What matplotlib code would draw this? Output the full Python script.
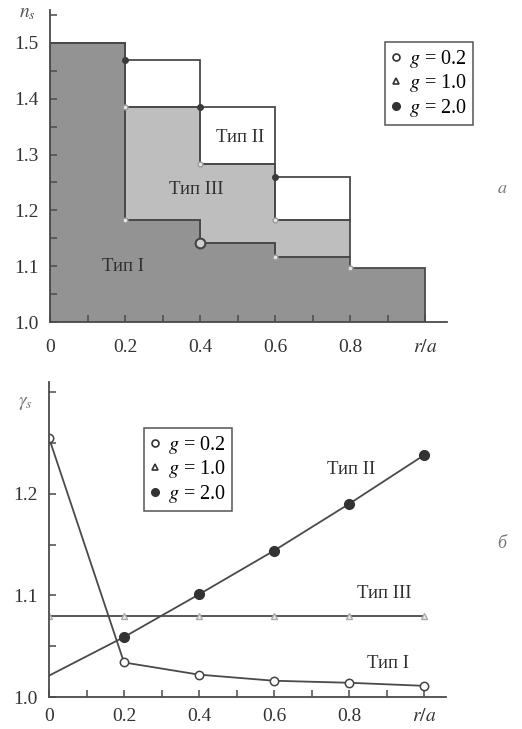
import numpy as np
import matplotlib.pyplot as plt
from matplotlib.lines import Line2D

plt.rcParams['font.family'] = ['Liberation Serif', 'DejaVu Serif']
plt.rcParams['mathtext.fontset'] = 'stix'

# upper panel (a): step profiles n_s over r/a
edges = [0.0, 0.2, 0.4, 0.6, 0.8, 1.0]
ns_type1 = [1.50, 1.183, 1.142, 1.116, 1.097]   # g = 0.2
ns_type3 = [1.50, 1.386, 1.283, 1.183]          # g = 1.0
ns_type2 = [1.50, 1.470, 1.386, 1.260]          # g = 2.0

# lower panel (b): gamma_s over r/a
r = [0.0, 0.2, 0.4, 0.6, 0.8, 1.0]
gam_type1 = [1.255, 1.034, 1.022, 1.016, 1.014, 1.011]
gam_type3 = [1.080, 1.080, 1.080, 1.080, 1.080, 1.080]
gam_type2 = [1.021, 1.059, 1.101, 1.144, 1.190, 1.238]

xtick_pos = [0, 0.2, 0.4, 0.6, 0.8, 1.0]
xtick_lab = ['0', '0.2', '0.4', '0.6', '0.8', '$r/a$']
g_labels = ['$g$ = 0.2', '$g$ = 1.0', '$g$ = 2.0']

line_c = '#4a4a4a'
dark_fill = '#939393'
light_fill = '#bebebe'
text_c = '#303030'

fig = plt.figure(figsize=(5.22, 7.29), dpi=100)
ax1 = fig.add_axes([50/522, 1 - 322/729, 397.5/522, 312.5/729])
ax2 = fig.add_axes([49/522, 1 - 697/729, 397.5/522, 315/729])


def style_axes(ax, ymin, ymax, yticks, ylabels, yminor, xpad):
    ax.set_xlim(0, 1.06)
    ax.set_ylim(ymin, ymax)
    for s in ['top', 'right']:
        ax.spines[s].set_visible(False)
    for s in ['left', 'bottom']:
        ax.spines[s].set_color(line_c)
        ax.spines[s].set_linewidth(1.3)
    ax.set_xticks(xtick_pos)
    ax.set_xticklabels(xtick_lab)
    ax.set_xticks(np.arange(0.1, 1.0, 0.2), minor=True)
    ax.set_yticks(yticks)
    ax.set_yticklabels(ylabels)
    ax.set_yticks(yminor, minor=True)
    ax.tick_params(which='both', direction='in', length=5, width=1.1,
                   color=line_c, labelsize=14, labelcolor='#333333')
    ax.tick_params(axis='x', pad=xpad)
    ax.tick_params(axis='y', pad=8)


legend_handles = [
    Line2D([], [], ls='none', marker='o', ms=5, mfc='white', mec='#333333', mew=1.2),
    Line2D([], [], ls='none', marker='^', ms=5, mfc='white', mec='#333333', mew=1.2),
    Line2D([], [], ls='none', marker='o', ms=5.5, mfc='#333333', mec='#333333'),
]

# ---- panel a ----
ax1.stairs(ns_type1, edges, baseline=1.0, fill=True, color=dark_fill, zorder=1)
ax1.stairs(ns_type3, edges[:5], baseline=ns_type1[:4], fill=True, color=light_fill, zorder=1)
ax1.stairs(ns_type1, edges, baseline=1.0, fill=False, color=line_c, lw=1.3, zorder=2)
ax1.stairs(ns_type3, edges[:5], baseline=ns_type1[:4], fill=False, color=line_c, lw=1.3, zorder=2)
ax1.stairs(ns_type2, edges[:5], baseline=ns_type3, fill=False, color=line_c, lw=1.3, zorder=2)

ax1.plot(edges[1:4], ns_type2[1:], ls='none', marker='o', ms=4, color='#3a3a3a', zorder=3)
ax1.plot(edges[1:4], ns_type3[1:], ls='none', marker='o', ms=3.5, mfc='#e6e6e6', mec='#9a9a9a', zorder=3)
ax1.plot(edges[1:5], ns_type1[1:], ls='none', marker='o', ms=3.5, mfc='#e6e6e6', mec='#9a9a9a', zorder=3)
ax1.plot(edges[2], ns_type1[2], ls='none', marker='o', ms=7, mfc='#d0d0d0', mec='#444444', mew=1.5, zorder=3)

style_axes(ax1, 1.0, 1.56, [1.0, 1.1, 1.2, 1.3, 1.4, 1.5],
           ['1.0', '1.1', '1.2', '1.3', '1.4', '1.5'],
           [1.05, 1.15, 1.25, 1.35, 1.45, 1.55], xpad=12)

ax1.text(0.507, 1.33, 'Тип II', ha='center', va='center', fontsize=13.5, color=text_c)
ax1.text(0.389, 1.237, 'Тип III', ha='center', va='center', fontsize=13.5, color=text_c)
ax1.text(0.195, 1.10, 'Тип I', ha='center', va='center', fontsize=13.5, color=text_c)

leg1 = ax1.legend(legend_handles, g_labels, loc='upper left', bbox_to_anchor=(0.843, 0.896),
                  borderaxespad=0, fontsize=14.5, handlelength=0.5, handletextpad=0.4,
                  labelspacing=0.12, borderpad=0.3, fancybox=False, framealpha=1)
leg1.get_frame().set_edgecolor('#555555')
leg1.get_frame().set_linewidth(1.1)

# ---- panel b ----
ax2.plot(r, gam_type1, color=line_c, lw=1.3, marker='o', ms=6, mfc='white', mec='#444444', mew=1.1)
ax2.plot(r, gam_type3, color=line_c, lw=1.3, marker='^', ms=5, mfc='#eeeeee', mec='#aaaaaa', mew=1.0)
ax2.plot(r, gam_type2, color=line_c, lw=1.3, marker='o', ms=7, mfc='#333333', mec='#333333',
         markevery=slice(1, None))

style_axes(ax2, 1.0, 1.31, [1.0, 1.1, 1.2, 1.3], ['1.0', '1.1', '1.2', ''],
           [1.05, 1.15, 1.25], xpad=8)

ax2.text(0.805, 1.224, 'Тип II', ha='center', va='center', fontsize=13.5, color=text_c)
ax2.text(0.893, 1.102, 'Тип III', ha='center', va='center', fontsize=13.5, color=text_c)
ax2.text(0.904, 1.033, 'Тип I', ha='center', va='center', fontsize=13.5, color=text_c)

leg2 = ax2.legend(legend_handles, g_labels, loc='upper left', bbox_to_anchor=(0.239, 0.854),
                  borderaxespad=0, fontsize=14.5, handlelength=0.5, handletextpad=0.4,
                  labelspacing=0.12, borderpad=0.3, fancybox=False, framealpha=1)
leg2.get_frame().set_edgecolor('#555555')
leg2.get_frame().set_linewidth(1.1)

fig.text(0.052, 0.982, '$n_s$', fontsize=14, color='#555555', ha='center', va='center')
fig.text(0.048, 0.447, r'$\gamma_s$', fontsize=14, color='#777777', ha='center', va='center')
fig.text(0.962, 0.742, '$a$', fontsize=13, color='#777777', ha='center', va='center')
fig.text(0.962, 0.255, 'б', fontsize=13, color='#777777', ha='center', va='center', style='italic')

fig.savefig('out.png', dpi=100)
